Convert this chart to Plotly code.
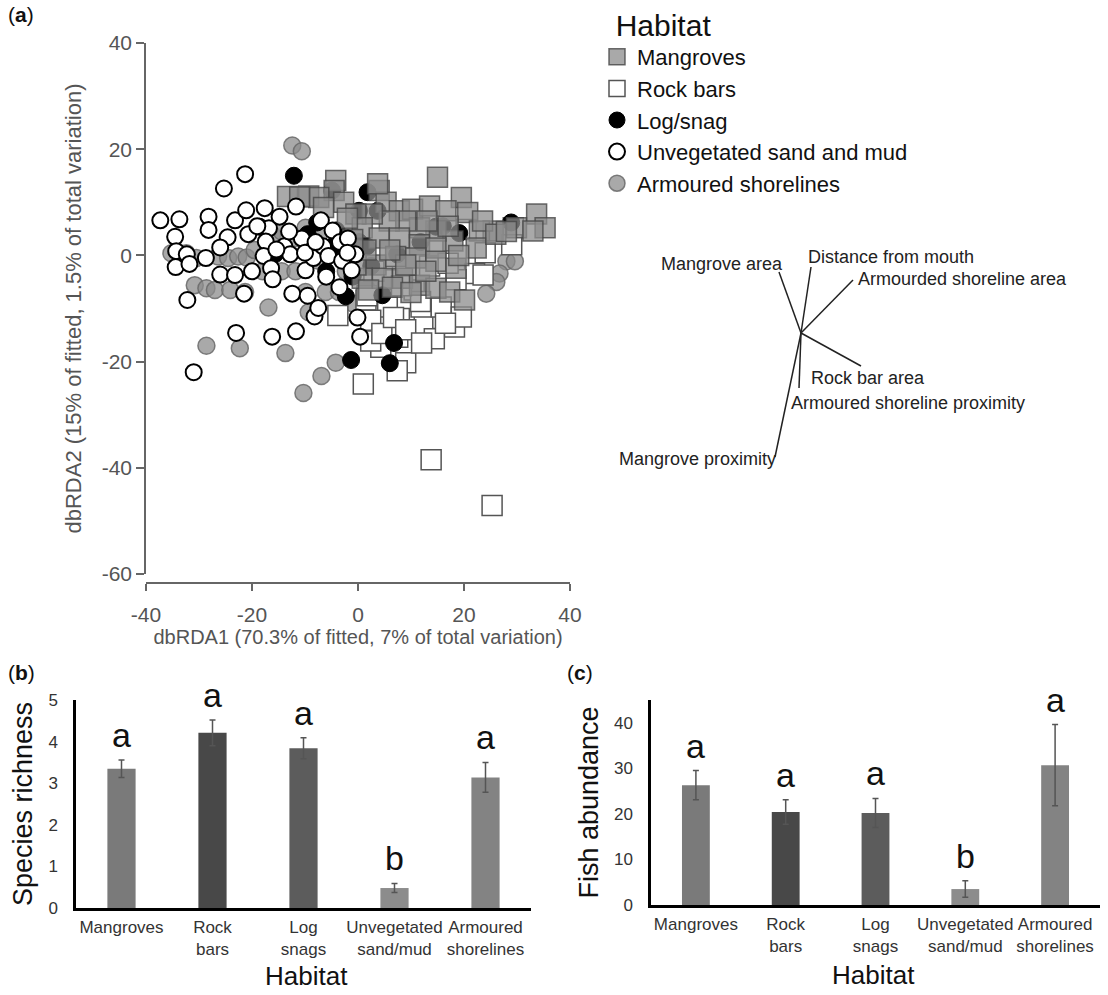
import plotly.graph_objects as go

W, H = 1108, 995
FONT = "Liberation Sans, Arial, sans-serif"

# ---------------- Panel (a): dbRDA ordination -------------
mangrove_x = [15.0, -4.2, -4.5, -13.3, -9.3, -7.4, -11.0, -2.7, 4.0, 5.3, 7.8, 10.3, 13.5, 19.5, 20.7,
              16.6, 33.7, 35.3, 29.9, 33.0, 25.5, 22.9, 22.3, 17.9, 14.7, 11.6, 9.0, 5.9, 2.7, -0.4,
              0.8, 4.0, 7.8, 11.6, 14.7, 3.4, 7.1, 10.9, 14.7, 18.5, 0.8, 4.6, 8.4, 11.6, 14.7,
              17.3, 20.1, 12.8, 9.0, -0.4, 1.5, 6.0, 13.0, 17.0, 19.0, -6.5, -2.0, 2.0, 6.5, 10.0,
              23.5, 26.0, 28.0, -1.0, 3.7]
mangrove_y = [14.7, 14.1, 12.2, 11.1, 11.2, 10.9, 11.0, 10.0, 12.2, 10.0, 8.4, 8.7, 9.3, 10.9, 8.1,
              8.4, 7.8, 5.2, 5.2, 4.6, 4.6, 4.6, 1.4, 2.7, 4.6, 5.2, 6.5, 6.5, 7.8, 7.8,
              5.2, 3.3, 3.3, 2.0, 1.4, -1.8, -0.2, -0.5, -1.1, -2.4, -4.3, -4.3, -4.3, -5.6, -6.2,
              -6.9, -8.4, -3.0, -1.8, -1.8, 1.0, 1.0, 6.5, 5.5, 0.0, 9.0, 7.0, -6.5, -6.0, -7.0,
              6.5, 4.0, 4.5, 3.0, 13.5]

rockbar_x = [22.0, 23.6, 18.5, 1.5, 5.6, 9.3, 2.4, 7.8, 12.5, 16.0, 18.2, 14.4, 4.3, 9.0, 7.4,
             1.0, 5.6, 10.6, 15.7, 11.9, 19.5, 7.5, 2.4, -3.8, 13.8, 25.3, 29.3, 29.0, 20.4, 16.5,
             11.8, 8.2, 4.5, 6.7, 1.7, 13.5, 17.0, 24.0, 3.0, 9.0, 12.0]
rockbar_y = [-3.4, -3.7, -4.6, -8.4, -9.7, -8.4, -12.2, -11.9, -13.2, -11.9, -13.5, -15.7, -17.3, -20.2, -21.7,
             -24.2, -4.6, -6.5, -9.7, -9.7, -11.6, -15.4, -16.1, -11.3, -38.5, -47.1, 5.2, 2.0, 4.9, -12.8,
             -8.7, -5.7, -14.7, -11.7, -7.6, -2.0, -1.5, 0.5, -3.0, -14.0, -16.5]

log_x = [-12.1, -4.9, 1.8, 3.7, 0.2, 28.9, 19.1, 16.0, -1.3, 6.0, 6.8, 4.6, -2.3, -4.8, -7.7,
         -18.6, -15.7, 0.2, -4.1, 14.7, 1.7, 7.4, 11.8, -9.5, -6.0, -1.0, 2.5]
log_y = [15.0, 12.2, 11.9, 8.4, 8.4, 6.2, 4.2, 5.5, -19.7, -20.3, -16.5, -7.5, -7.7, 1.7, 6.2,
         5.4, 0.2, 2.5, 4.7, 5.4, 1.7, 0.2, 2.5, 4.0, -3.0, -4.0, -2.0]

unveg_x = [-37.3, -33.7, -34.5, -34.3, -34.4, -32.3, -31.8, -32.2, -31.0, -28.2, -28.2, -28.7, -26.0,
           -25.3, -24.6, -23.2, -21.3, -21.1, -23.2, -21.5, -20.0, -23.0, -17.6, -16.8, -17.4, -17.8,
           -16.4, -16.1, -16.2, -14.8, -13.9, -12.8, -12.4, -11.7, -11.7, -10.6, -9.9, -9.5, -8.2,
           -8.4, -7.5, -7.0, -6.6, -5.6, -4.8, -3.4, -3.0, -1.9, -1.2, -0.1, 0.4, -0.5, -20.7,
           -15.4, -26.0, -19.0, -13.0, -10.0, -6.0, -3.5, -2.0, -8.0]
unveg_y = [6.6, 6.8, 3.5, 0.8, -2.2, 0.2, -1.6, -8.4, -22.0, 7.3, 4.8, -0.5, -3.6,
           12.6, 3.4, 6.6, 15.3, 8.5, -3.7, -7.2, -3.0, -14.6, 8.9, 5.1, 2.6, -0.1,
           -2.4, -4.5, -15.3, 7.3, 1.7, 0.2, -7.2, 9.2, -14.3, 3.2, -2.8, -7.6, -11.5,
           -0.5, -9.9, 6.6, 1.7, -0.1, 4.7, 2.5, -1.0, 3.2, -2.8, -11.7, -15.3, 0.2, 4.0,
           1.1, 1.5, 5.5, 4.5, 0.5, -4.0, -6.0, 0.5, 2.5]

armoured_x = [-12.4, -10.6, -35.2, -32.4, -30.5, -26.4, -24.5, -22.6, -21.0, -30.8, -28.6, -27.0, -24.1,
              -21.3, -16.9, -28.6, -22.3, -13.7, -9.3, -4.2, -6.9, -10.3, -14.4, -16.2, -14.4, -11.8,
              -9.9, -7.4, -3.6, -2.3, -11.8, -9.9, -6.1, -3.6, -5.2, -1.1, 28.0, 29.6, 26.7, 26.1,
              24.2, -18.0, -7.5, -1.0, 1.5, -19.5]
armoured_y = [20.7, 19.6, 0.4, 0.4, -0.5, -0.2, -0.5, -0.2, -0.4, -5.6, -6.2, -6.5, -6.5,
              -6.9, -9.8, -17.0, -17.5, -18.4, -10.7, -20.2, -22.7, -25.9, -3.0, 3.9, 4.5, 3.3,
              5.2, 3.9, 3.9, -3.0, -3.0, -6.9, -6.9, -6.9, 1.4, -3.7, -1.1, -1.1, -3.4, -5.0,
              -7.2, -3.0, -1.0, -9.0, -6.0, 1.0]

x_tickvals_a = [-40, -20, 0, 20, 40]
x_ticktext_a = ["-40", "-20", "0", "20", "40"]
y_tickvals_a = [-60, -40, -20, 0, 20, 40]
y_ticktext_a = ["-60", "-40", "-20", "0", "20", "40"]
x_title_a = "dbRDA1 (70.3% of fitted, 7% of total variation)"
y_title_a = "dbRDA2 (15% of fitted, 1.5% of total variation)"

# environmental vectors (screen-scaled loadings, up = positive)
vector_names = ["Mangrove area", "Distance from mouth", "Armourded shoreline area",
                "Rock bar area", "Armoured shoreline proximity", "Mangrove proximity"]
vector_dx = [-22, 10, 52, 60, -2, -26]
vector_dy = [61, 66, 53, -33, -55, -124]

# ---------------- Panels (b) and (c) -------------
habitats = ["Mangroves", "Rock<br>bars", "Log<br>snags", "Unvegetated<br>sand/mud", "Armoured<br>shorelines"]
bar_colors = ["#7a7a7a", "#484848", "#5c5c5c", "#8c8c8c", "#838383"]
richness = [3.35, 4.21, 3.84, 0.48, 3.14]
richness_se = [0.21, 0.31, 0.25, 0.11, 0.36]
abundance = [26.3, 20.4, 20.2, 3.5, 30.7]
abundance_se = [3.2, 2.7, 3.2, 1.8, 8.9]
groups = ["a", "a", "a", "b", "a"]


def px(p):
    return p / W


def py(p):
    return 1 - p / H


fig = go.Figure()

# draw order (bottom -> top); legend order via legendrank
fig.add_trace(go.Scatter(x=armoured_x, y=armoured_y, mode="markers", name="Armoured shorelines",
                         legendrank=5, xaxis="x", yaxis="y",
                         marker=dict(symbol="circle", size=17, color="rgba(140,140,140,0.75)",
                                     line=dict(color="rgba(105,105,105,0.85)", width=1.5))))
fig.add_trace(go.Scatter(x=rockbar_x, y=rockbar_y, mode="markers", name="Rock bars",
                         legendrank=2, xaxis="x", yaxis="y",
                         marker=dict(symbol="square", size=20, color="white",
                                     line=dict(color="#555555", width=1.5))))
fig.add_trace(go.Scatter(x=log_x, y=log_y, mode="markers", name="Log/snag",
                         legendrank=3, xaxis="x", yaxis="y",
                         marker=dict(symbol="circle", size=17, color="black",
                                     line=dict(color="black", width=1))))
fig.add_trace(go.Scatter(x=mangrove_x, y=mangrove_y, mode="markers", name="Mangroves",
                         legendrank=1, xaxis="x", yaxis="y",
                         marker=dict(symbol="square", size=20, color="rgba(140,140,140,0.75)",
                                     line=dict(color="rgba(70,70,70,0.8)", width=1.5))))
fig.add_trace(go.Scatter(x=unveg_x, y=unveg_y, mode="markers", name="Unvegetated sand and mud",
                         legendrank=4, xaxis="x", yaxis="y",
                         marker=dict(symbol="circle", size=16, color="white",
                                     line=dict(color="black", width=2))))

# vectors
for name, dx, dy in zip(vector_names, vector_dx, vector_dy):
    fig.add_trace(go.Scatter(x=[0, dx], y=[0, dy], mode="lines", showlegend=False,
                             xaxis="x2", yaxis="y2", hoverinfo="skip",
                             line=dict(color="#222222", width=1.5)))

label_anchor = {
    "Mangrove area": ("right", 6, 8),
    "Distance from mouth": ("left", -5, 10),
    "Armourded shoreline area": ("left", 3, 1),
    "Rock bar area": ("left", -52, -12),
    "Armoured shoreline proximity": ("left", -10, -15),
    "Mangrove proximity": ("right", 3, -2),
}
annotations = []
for name, dx, dy in zip(vector_names, vector_dx, vector_dy):
    xa, xs, ys = label_anchor[name]
    annotations.append(dict(x=dx, y=dy, xref="x2", yref="y2", text=name, showarrow=False,
                            xanchor=xa, yanchor="middle", xshift=xs, yshift=ys,
                            font=dict(size=18, color="#222222")))

# bars (b)
fig.add_trace(go.Bar(x=habitats, y=richness, marker=dict(color=bar_colors, line=dict(width=0)),
                     width=0.31, showlegend=False, xaxis="x3", yaxis="y3",
                     error_y=dict(type="data", array=richness_se, color="#555555",
                                  thickness=1.5, width=3)))
# bars (c)
fig.add_trace(go.Bar(x=habitats, y=abundance, marker=dict(color=bar_colors, line=dict(width=0)),
                     width=0.31, showlegend=False, xaxis="x4", yaxis="y4",
                     error_y=dict(type="data", array=abundance_se, color="#555555",
                                  thickness=1.5, width=3)))

for h, m, se, g in zip(habitats, richness, richness_se, groups):
    annotations.append(dict(x=h, y=m + se, xref="x3", yref="y3", text=g, showarrow=False,
                            yanchor="bottom", yshift=4, font=dict(size=34, color="#111111")))
for h, m, se, g in zip(habitats, abundance, abundance_se, groups):
    annotations.append(dict(x=h, y=m + se, xref="x4", yref="y4", text=g, showarrow=False,
                            yanchor="bottom", yshift=4, font=dict(size=34, color="#111111")))

# x-axis titles of the bar panels
for x0, y0 in [(306, 976), (873, 975)]:
    annotations.append(dict(x=px(x0), y=py(y0), xref="paper", yref="paper", text="Habitat",
                            showarrow=False, xanchor="center", yanchor="middle",
                            font=dict(size=26, color="#111111")))

# panel labels
for lab, x0, y0 in [("a", 6, 15), ("b", 6, 672), ("c", 565, 672)]:
    annotations.append(dict(x=px(x0), y=py(y0), xref="paper", yref="paper",
                            text="(<b>%s</b>)" % lab, showarrow=False,
                            xanchor="left", yanchor="middle", font=dict(size=21, color="#111111")))

gray = "#555555"
fig.update_layout(
    template="none",
    width=W, height=H, margin=dict(l=0, r=0, t=0, b=0, autoexpand=False),
    paper_bgcolor="white", plot_bgcolor="rgba(0,0,0,0)",
    font=dict(family=FONT, color="#333333"),
    showlegend=True,
    legend=dict(x=px(597), y=py(-3), xanchor="left", yanchor="top",
                title=dict(text="\u00a0\u00a0Habitat", font=dict(size=30, color="#111111")),
                font=dict(size=22, color="#111111"), bgcolor="rgba(0,0,0,0)",
                tracegroupgap=0, itemsizing="trace"),
    xaxis=dict(domain=[px(146), px(570)], range=[-40, 40], anchor="free", position=py(583),
               automargin=False,
               showline=True, linecolor="#666666", linewidth=1.5, ticks="outside", ticklen=7,
               tickcolor="#666666", tickwidth=1.5, tickvals=x_tickvals_a, ticktext=x_ticktext_a,
               showgrid=False, zeroline=False, tickfont=dict(size=21, color=gray),
               ticklabelstandoff=6,
               title=dict(text=x_title_a, font=dict(size=20, color=gray), standoff=4)),
    yaxis=dict(domain=[py(574), py(43)], range=[-60, 40], anchor="x", automargin=False,
               showline=True, linecolor="#666666", linewidth=1.5, ticks="outside", ticklen=8,
               tickcolor="#666666", tickwidth=1.5, tickvals=y_tickvals_a, ticktext=y_ticktext_a,
               showgrid=False, zeroline=False, tickfont=dict(size=21, color=gray),
               title=dict(text=y_title_a, font=dict(size=22, color=gray), standoff=14)),
    xaxis2=dict(domain=[px(600), px(1100)], range=[-201, 299], visible=False, anchor="y2"),
    yaxis2=dict(domain=[py(480), py(240)], range=[-147, 93], visible=False, anchor="x2"),
    xaxis3=dict(domain=[px(76), px(531)], range=[-0.5, 4.5], anchor="y3", showline=True,
                automargin=False, tickangle=0,
                linecolor="black", linewidth=2.5, ticks="", showgrid=False, zeroline=False,
                tickfont=dict(size=17, color="#333333"), ticklabelstandoff=2),
    yaxis3=dict(domain=[py(908), py(700)], range=[0, 5], anchor="x3", showline=True,
                automargin=False,
                linecolor="black", linewidth=2.5, ticks="", showgrid=False, zeroline=False,
                tickvals=[0, 1, 2, 3, 4, 5], tickfont=dict(size=17, color="#333333"),
                ticklabelstandoff=12,
                title=dict(text="Species richness", font=dict(size=27, color="#111111"), standoff=8)),
    xaxis4=dict(domain=[px(651), px(1100)], range=[-0.5, 4.5], anchor="y4", showline=True,
                automargin=False, tickangle=0,
                linecolor="black", linewidth=2.5, ticks="", showgrid=False, zeroline=False,
                tickfont=dict(size=17, color="#333333"), ticklabelstandoff=2),
    yaxis4=dict(domain=[py(905), py(700)], range=[0, 45], anchor="x4", showline=True,
                automargin=False,
                linecolor="black", linewidth=2.5, ticks="", showgrid=False, zeroline=False,
                tickvals=[0, 10, 20, 30, 40], tickfont=dict(size=17, color="#333333"),
                ticklabelstandoff=12,
                title=dict(text="Fish abundance", font=dict(size=27, color="#111111"), standoff=8)),
    annotations=annotations,
)

fig.write_html("out.html", config={"displayModeBar": False},
               post_script="document.body.style.margin='0';")
